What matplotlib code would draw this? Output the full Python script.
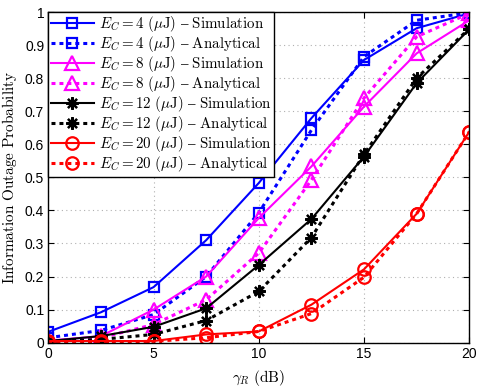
import matplotlib
matplotlib.use("Agg")
import matplotlib.pyplot as plt
import numpy as np

plt.rcParams['mathtext.fontset'] = 'cm'
plt.rcParams['font.family'] = ['DejaVu Serif']

gamma_R = [0, 2.5, 5, 7.5, 10, 12.5, 15, 17.5, 20]

ec4_sim = [0.033, 0.092, 0.168, 0.31, 0.483, 0.679, 0.855, 0.951, 0.996]
ec4_ana = [0.015, 0.037, 0.085, 0.2, 0.393, 0.643, 0.865, 0.975, 0.998]
ec8_sim = [0.006, 0.02, 0.1, 0.2, 0.377, 0.533, 0.714, 0.875, 0.975]
ec8_ana = [0.004, 0.015, 0.055, 0.13, 0.271, 0.492, 0.74, 0.925, 0.996]
ec12_sim = [0.005, 0.02, 0.048, 0.104, 0.235, 0.374, 0.563, 0.785, 0.948]
ec12_ana = [0.003, 0.01, 0.025, 0.067, 0.155, 0.318, 0.57, 0.8, 0.95]
ec20_sim = [0.005, 0.005, 0.005, 0.025, 0.034, 0.115, 0.222, 0.39, 0.638]
ec20_ana = [0.003, 0.003, 0.004, 0.015, 0.034, 0.088, 0.198, 0.39, 0.638]

xticks = [0, 5, 10, 15, 20]
yticks = [0, 0.1, 0.2, 0.3, 0.4, 0.5, 0.6, 0.7, 0.8, 0.9, 1]
ytick_labels = ["0", "0.1", "0.2", "0.3", "0.4", "0.5", "0.6", "0.7", "0.8", "0.9", "1"]

series = [
    ("4", ec4_sim, ec4_ana, "#0000ff", "s", 7.5),
    ("8", ec8_sim, ec8_ana, "#ff00ff", "^", 10),
    ("12", ec12_sim, ec12_ana, "#000000", (8, 2, 0), 9),
    ("20", ec20_sim, ec20_ana, "#ff0000", "o", 9),
]

fig = plt.figure(figsize=(4.85, 3.90), dpi=100)
ax = fig.add_axes([48.3 / 485, 1 - 342.7 / 390, (469.3 - 48.3) / 485, (342.7 - 12) / 390])

for ec, sim, ana, col, mk, ms in series:
    ax.plot(gamma_R, sim, color=col, linestyle='-', linewidth=1.5, marker=mk,
            markersize=ms, markerfacecolor='none',
            markeredgecolor=col, markeredgewidth=1.6,
            label=r"$E_C = %s\ (\mu\mathrm{J})\ \mathrm{–\ Simulation}$" % ec)
    ax.plot(gamma_R, ana, color=col, linestyle=(0, (1.3, 1.3)), linewidth=2.2, marker=mk,
            markersize=ms, markerfacecolor='none',
            markeredgecolor=col, markeredgewidth=1.6,
            label=r"$E_C = %s\ (\mu\mathrm{J})\ \mathrm{–\ Analytical}$" % ec)

ax.set_xlim(0, 20)
ax.set_ylim(0, 1)
ax.set_xticks(xticks)
ax.set_yticks(yticks)
ax.set_yticklabels(ytick_labels)
for lab in ax.get_xticklabels() + ax.get_yticklabels():
    lab.set_family('Liberation Sans')
    lab.set_fontsize(10)
ax.tick_params(direction='in', top=True, right=True, length=4, pad=3)
ax.grid(True, linestyle=(0, (1, 3)), color='#b0b0b0', linewidth=0.8)

ax.set_xlabel(r"$\gamma_R\ \mathrm{(dB)}$", fontsize=11, labelpad=5)
ax.set_ylabel(r"$\mathrm{Information\ Outage\ Probability}$", fontsize=11, labelpad=4)

leg = ax.legend(loc='upper left', borderaxespad=0, fontsize=10.8, frameon=True,
                fancybox=False, framealpha=1, edgecolor='black',
                handlelength=2.9, labelspacing=0.0, borderpad=0.15, handletextpad=0.35)
leg.get_frame().set_linewidth(1.0)

for s in ax.spines.values():
    s.set_linewidth(1.0)

fig.savefig("out.png", dpi=100)
